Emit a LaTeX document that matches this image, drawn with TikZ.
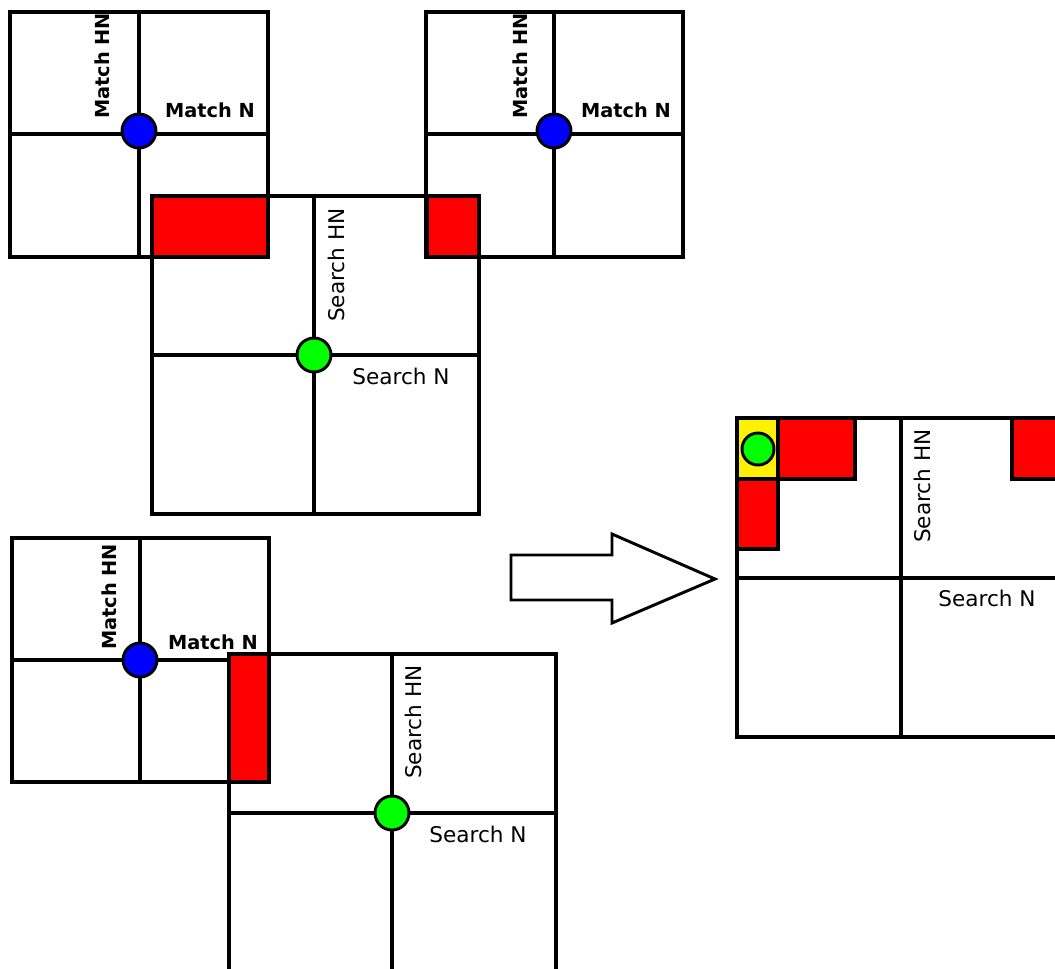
\documentclass[tikz,border=0pt]{standalone}
\usepackage{fontspec}
\newfontfamily\dv{DejaVu Sans}
\begin{document}
\begin{tikzpicture}[x=0.75pt,y=-0.75pt,
  grid/.style={draw=black,line width=2.3pt},
  hit/.style={fill=red,draw=black,line width=2.3pt},
  here/.style={fill=yellow,draw=black,line width=2.3pt},
  mdot/.style={circle,fill=blue,draw=black,line width=2.2pt,minimum size=25.5pt,inner sep=0pt},
  sdot/.style={circle,fill=green,draw=black,line width=2.2pt,minimum size=25.5pt,inner sep=0pt},
  mlab/.style={font=\dv\bfseries\fontsize{14.5}{16}\selectfont,inner sep=0pt},
  slab/.style={font=\dv\fontsize{16.2}{18}\selectfont,inner sep=0pt},
  bigarrow/.style={draw=black,line width=2.2pt,fill=white,line join=miter}]
\useasboundingbox (0,0) rectangle (1055,968);
\clip (0,0) rectangle (1055,968);
% box A (match, top left)
\draw[grid] (10,12) rectangle (268,257);
\draw[grid] (139,12) -- (139,257);
\draw[grid] (10,134) -- (268,134);
% box C (match, top right)
\draw[grid] (426,12) rectangle (683,257);
\draw[grid] (554,12) -- (554,257);
\draw[grid] (426,134) -- (683,134);
% box B (search, top)
\draw[grid] (152,196) rectangle (479,514);
\draw[grid] (314,196) -- (314,514);
\draw[grid] (152,355) -- (479,355);
\draw[hit] (152,196) rectangle (268,257);
\draw[hit] (427,196) rectangle (479,257);
% box D (match, bottom left)
\draw[grid] (12,538) rectangle (269,782);
\draw[grid] (140,538) -- (140,782);
\draw[grid] (12,660) -- (269,660);
% box E (search, bottom)
\draw[grid] (229,654) rectangle (556,1000);
\draw[grid] (392,654) -- (392,1000);
\draw[grid] (229,813) -- (556,813);
\draw[hit] (229,654) rectangle (269,782);
% box F (result)
\draw[grid] (737,418) rectangle (1100,737);
\draw[grid] (901,418) -- (901,737);
\draw[grid] (737,578) -- (1100,578);
\draw[here] (737,418) rectangle (778,479);
\draw[hit] (778,418) rectangle (855,479);
\draw[hit] (737,479) rectangle (778,549);
\draw[hit] (1012,418) rectangle (1100,479);
% arrow
\draw[bigarrow] (511,555) -- (612,555) -- (612,534) -- (715,579) -- (612,623) -- (612,600) -- (511,600) -- cycle;
% dots
\node[mdot] (dA) at (139,131) {};
\node[mdot] (dC) at (554,131) {};
\node[mdot] (dD) at (140,660) {};
\node[sdot] (dB) at (314,355) {};
\node[sdot] (dE) at (392,813) {};
\node[sdot,minimum size=24pt] (dF) at (758,449) {};
% labels
\node[mlab,rotate=90] (hA) at (102,66) {Match HN};
\node[mlab] (nA) at (210,110) {Match N};
\node[mlab,rotate=90] (hC) at (520,66) {Match HN};
\node[mlab] (nC) at (626,110) {Match N};
\node[mlab,rotate=90] (hD) at (109,597) {Match HN};
\node[mlab] (nD) at (213,642) {Match N};
\node[slab,rotate=90] (hB) at (336,265) {Search HN};
\node[slab] (nB) at (401,376) {Search N};
\node[slab,rotate=90] (hE) at (413,722) {Search HN};
\node[slab] (nE) at (478,834) {Search N};
\node[slab,rotate=90] (hF) at (922,486) {Search HN};
\node[slab] (nF) at (987,598) {Search N};
\end{tikzpicture}
\end{document}
